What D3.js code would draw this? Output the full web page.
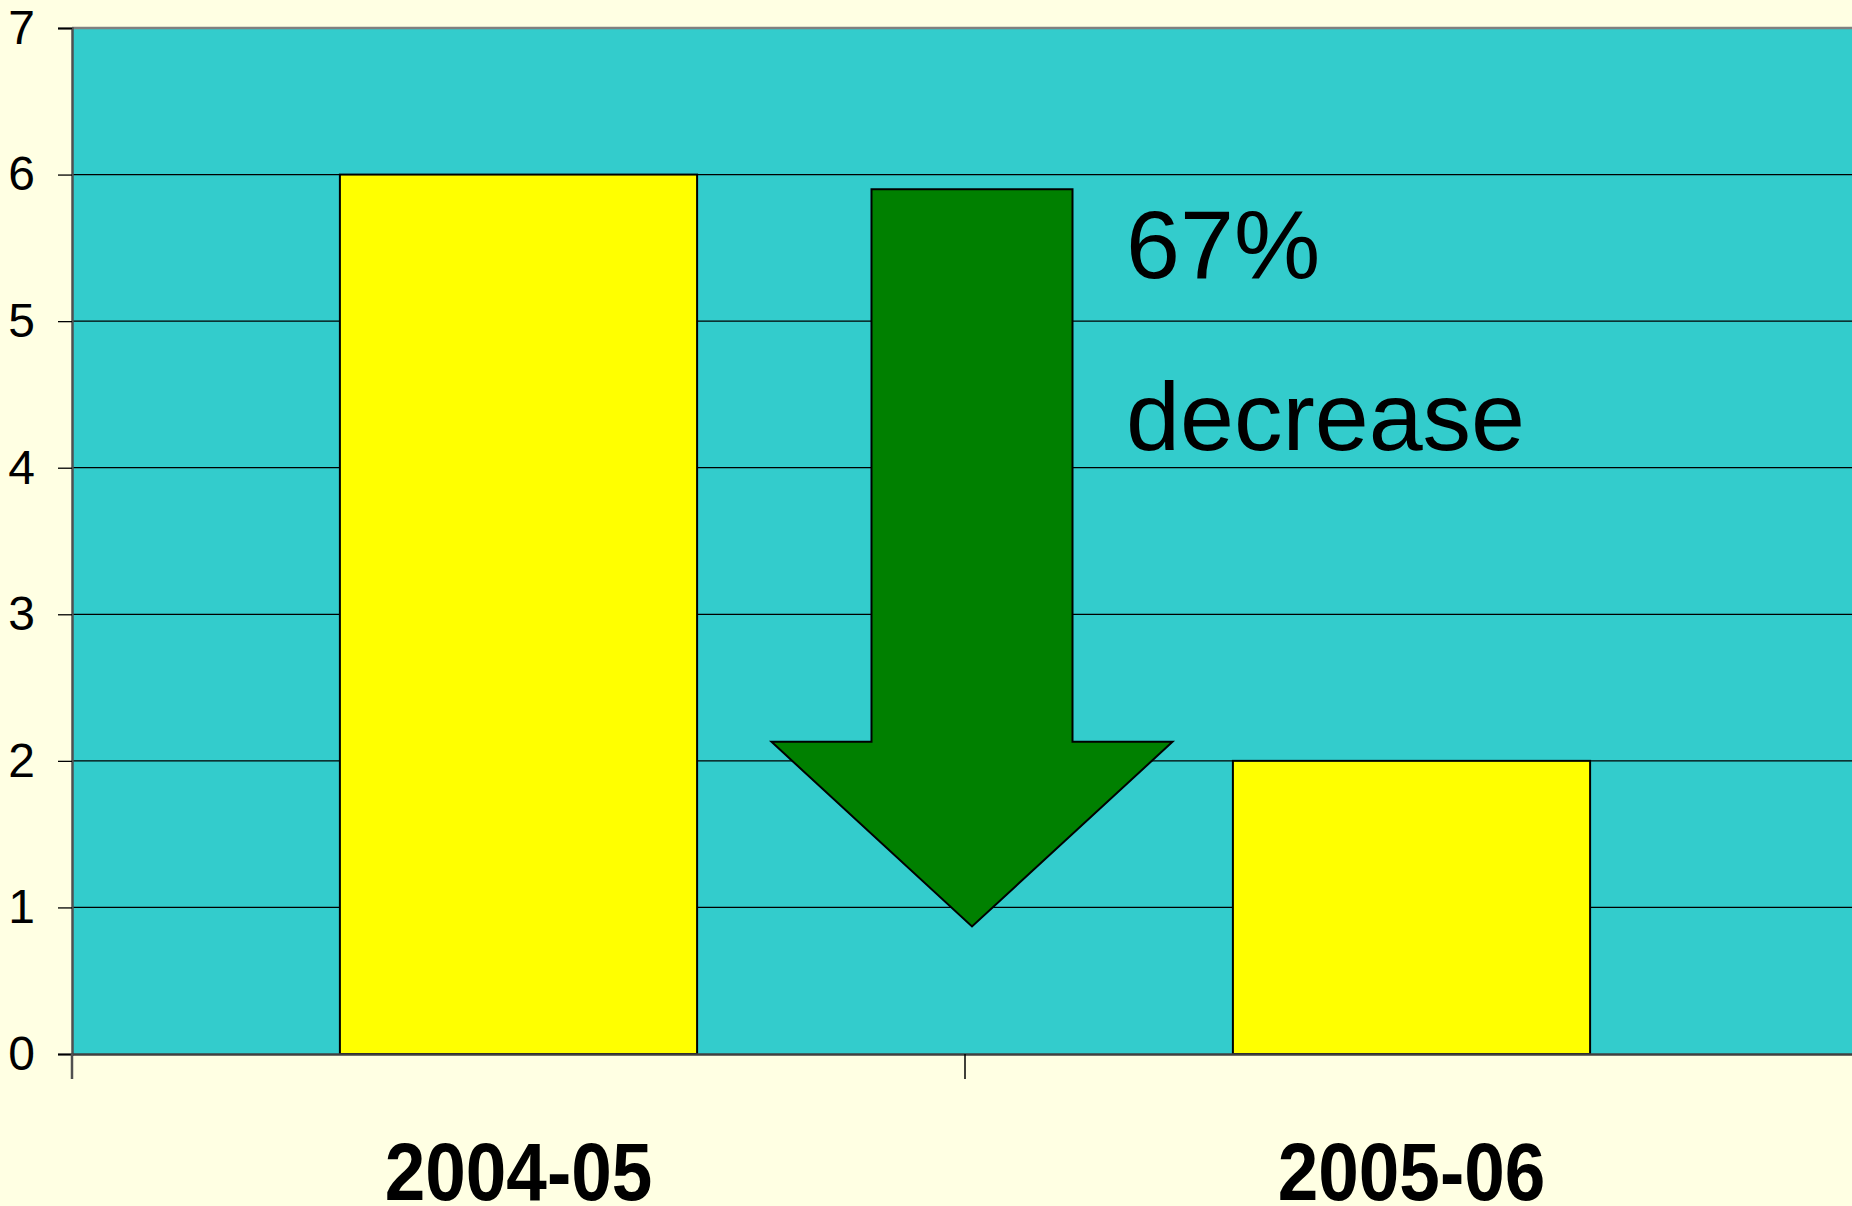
<!DOCTYPE html>
<html>
<head>
<meta charset="utf-8">
<script src="https://cdn.jsdelivr.net/npm/d3@7"></script>
<style>
  html, body { margin: 0; padding: 0; background: #ffffe3; }
  svg { display: block; }
</style>
</head>
<body>
<div id="chart"></div>
<script>
'use strict';

// data
var categories = ['2004-05', '2005-06']
var values = [6, 2]
var yTicks = [0, 1, 2, 3, 4, 5, 6, 7]
var noteLines = ['67%', 'decrease']
// arrow annotation, in value units
var arrowTop = 5.9
var arrowHead = 2.13
var arrowTip = 0.87

var width = 1852, height = 1206
var padding = { left: 72, right: -6, top: 28, bottom: 152 }

var svg = d3.select('#chart').append('svg')
    .attr('width', width).attr('height', height)

var plotW = width - padding.left - padding.right
var plotH = height - padding.top - padding.bottom

var xScale = d3.scaleBand().domain(categories)
    .range([padding.left, padding.left + plotW])
    .paddingInner(0.6).paddingOuter(0.3)  // ~150% gap width
var xOuter = d3.scaleBand().domain(categories)
    .range([padding.left, padding.left + plotW])
var yScale = d3.scaleLinear().domain([0, 7])
    .range([padding.top + plotH, padding.top])

// plot area
svg.append('rect')
    .attr('x', padding.left).attr('y', padding.top)
    .attr('width', plotW).attr('height', plotH)
    .style('fill', '#33cccc')

// gridlines
svg.append('g').selectAll('line')
    .data(yTicks.filter(function(d) { return d > 0 && d < 7 }))
    .enter().append('line')
    .attr('x1', padding.left).attr('x2', padding.left + plotW)
    .attr('y1', function(d) { return yScale(d) }).attr('y2', function(d) { return yScale(d) })
    .style('stroke', '#000').style('stroke-width', 1.3)

// top border
svg.append('line')
    .attr('x1', padding.left).attr('x2', padding.left + plotW)
    .attr('y1', yScale(7)).attr('y2', yScale(7))
    .style('stroke', '#808080').style('stroke-width', 2.5)

// bars
svg.selectAll('.bar').data(values).enter().append('rect')
    .attr('class', 'bar')
    .attr('x', function(d, i) { return xScale(categories[i]) })
    .attr('y', function(d) { return yScale(d) })
    .attr('width', xScale.bandwidth())
    .attr('height', function(d) { return yScale(0) - yScale(d) })
    .style('fill', '#ffff00').style('stroke', '#000').style('stroke-width', 2)

// y axis
var yAxis = d3.axisLeft(yScale).tickValues(yTicks).tickFormat(d3.format('d'))
    .tickSize(14).tickPadding(23)
var gy = svg.append('g')
    .attr('transform', 'translate(' + padding.left + ',0)')
    .call(yAxis)
gy.select('.domain').style('stroke', '#505050').style('stroke-width', 2.5)
gy.selectAll('.tick line').style('stroke', '#000').style('stroke-width', 1.3)
gy.selectAll('.tick text')
    .style('font-family', 'Liberation Sans, Arial, sans-serif')
    .style('font-size', '48px').style('fill', '#000')

// x axis
var xAxis = d3.axisBottom(xOuter).tickSize(0).tickFormat('')
var gx = svg.append('g')
    .attr('transform', 'translate(0,' + yScale(0) + ')')
    .call(xAxis)
gx.select('.domain').style('stroke', '#404040').style('stroke-width', 2.5)

// category boundary ticks
var bounds = [padding.left, padding.left + xOuter.step(), padding.left + 2 * xOuter.step()]
svg.append('g').selectAll('line').data(bounds).enter().append('line')
    .attr('x1', function(d) { return d }).attr('x2', function(d) { return d })
    .attr('y1', yScale(0)).attr('y2', yScale(0) + 25)
    .style('stroke', function(d, i) { return i == 0 ? '#505050' : '#000' })
    .style('stroke-width', function(d, i) { return i == 0 ? 2.5 : 1.5 })

// category labels
svg.append('g').selectAll('text').data(categories).enter().append('text')
    .attr('transform', function(d) {
        return 'translate(' + (xOuter(d) + xOuter.bandwidth() / 2) + ',' + (yScale(0) + 146) + ') scale(0.9,1)'
    })
    .attr('text-anchor', 'middle')
    .style('font-family', 'Liberation Sans, Arial, sans-serif')
    .style('font-weight', 'bold').style('font-size', '81px').style('fill', '#000')
    .text(function(d) { return d })

// arrow
var ax = padding.left + xOuter.step() + 7
var shaftHalf = 100.5, headHalf = 200.5
var arrowPts = [
    [ax - shaftHalf, yScale(arrowTop)],
    [ax + shaftHalf, yScale(arrowTop)],
    [ax + shaftHalf, yScale(arrowHead)],
    [ax + headHalf, yScale(arrowHead)],
    [ax, yScale(arrowTip)],
    [ax - headHalf, yScale(arrowHead)],
    [ax - shaftHalf, yScale(arrowHead)]
]
svg.append('path')
    .attr('d', d3.line()(arrowPts) + 'Z')
    .style('fill', '#008000').style('stroke', '#000').style('stroke-width', 2)
    .style('stroke-linejoin', 'miter')

// note text
svg.append('g').selectAll('text').data(noteLines).enter().append('text')
    .attr('x', 1126)
    .attr('y', function(d, i) { return i == 0 ? 278 : 450 })
    .style('font-family', 'Liberation Sans, Arial, sans-serif')
    .style('font-size', '97px').style('fill', '#000')
    .text(function(d) { return d })
</script>
</body>
</html>
